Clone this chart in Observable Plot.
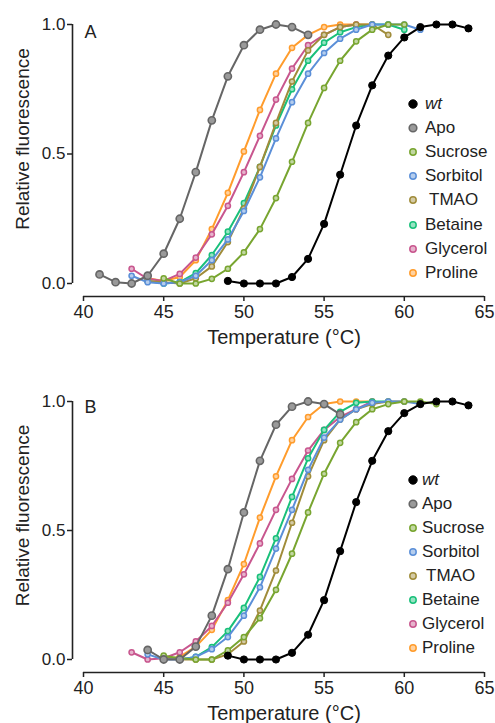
<!DOCTYPE html>
<html><head><meta charset="utf-8">
<script src="https://cdn.jsdelivr.net/npm/d3@7"></script>
<script src="https://cdn.jsdelivr.net/npm/@observablehq/plot@0.6"></script>
<style>
body{margin:0;background:#fff;font-family:"Liberation Sans",Arial,sans-serif;}
#wrap{position:relative;width:495px;height:723px;overflow:hidden;}
#wrap svg{display:block;}
.row{position:absolute;height:20px;line-height:20px;font-size:17px;color:#222;white-space:nowrap;display:flex;align-items:center;}
.row svg{display:inline-block;margin-right:5px;}
</style></head><body><div id="wrap"></div>
<script>
const seriesNames = ["wt","Apo","Sucrose","Sorbitol","TMAO","Betaine","Glycerol","Proline"];
const seriesColors = ["#000000","#666666","#78a530","#5b8fd8","#a08c3a","#19c07a","#c8568e","#ff9c2c"];
const drawOrder = ["Proline","Glycerol","Betaine","TMAO","Sorbitol","Sucrose","Apo","wt"];
const xTicks = [40,45,50,55,60,65];
const yTicks = [0,0.5,1];
const xLabel = "Temperature (°C)";
const yLabel = "Relative fluorescence";

// Panel A: first temperature of each series (°C), then values at 1 °C steps
const startA = {wt:49, Apo:41, Sucrose:45, Sorbitol:43, TMAO:44, Betaine:44, Glycerol:43, Proline:44};
const A_wt       = [0.01,0,0,0,0.025,0.095,0.23,0.42,0.61,0.765,0.88,0.95,0.99,1.0,1.0,0.985];
const A_Apo      = [0.035,0.005,0,0.03,0.115,0.25,0.43,0.63,0.80,0.92,0.98,1.0,0.99,0.96];
const A_Sucrose  = [0.02,0,0,0.018,0.057,0.12,0.21,0.33,0.47,0.62,0.755,0.86,0.935,0.98,1.0,1.0];
const A_Sorbitol = [0.03,0.005,0,0.005,0.03,0.09,0.17,0.28,0.41,0.56,0.70,0.81,0.89,0.945,0.98,1.0,1.0,1.0,0.98];
const A_TMAO     = [0.01,0.005,0,0.02,0.066,0.16,0.29,0.45,0.62,0.78,0.90,0.96,0.99,1.0,1.0,0.96];
const A_Betaine  = [0.01,0,0.005,0.04,0.11,0.20,0.31,0.45,0.61,0.75,0.86,0.93,0.97,0.99,1.0,1.0,0.98];
const A_Glycerol = [0.057,0.018,0.01,0.037,0.10,0.19,0.30,0.43,0.57,0.71,0.83,0.92,0.96,0.99,1.0];
const A_Proline  = [0.02,0.01,0.025,0.09,0.21,0.35,0.51,0.67,0.81,0.91,0.96,0.99,1.0,1.0,1.0];

// Panel B
const startB = {wt:49, Apo:44, Sucrose:45, Sorbitol:44, TMAO:45, Betaine:45, Glycerol:43, Proline:45};
const B_wt       = [0.015,0,0,0,0.026,0.096,0.23,0.42,0.61,0.77,0.885,0.955,0.99,1.0,1.0,0.985];
const B_Apo      = [0.037,0,0,0.05,0.17,0.35,0.57,0.77,0.91,0.98,1.0,0.99,0.95];
const B_Sucrose  = [0.015,0.005,0,0,0.035,0.087,0.16,0.27,0.41,0.57,0.72,0.84,0.92,0.97,0.99,1.0,1.0,0.99];
const B_Sorbitol = [0.02,0,0,0.01,0.04,0.087,0.17,0.28,0.43,0.58,0.735,0.86,0.93,0.97,0.995,1.0,1.0,0.99];
const B_TMAO     = [0.01,0,0,0,0.02,0.07,0.19,0.345,0.53,0.71,0.85,0.93,0.97,0.99,1.0,1.0];
const B_Betaine  = [0.01,0,0.01,0.048,0.11,0.20,0.32,0.47,0.63,0.78,0.89,0.96,0.995,1.0,1.0];
const B_Glycerol = [0.028,0,0.005,0.028,0.07,0.13,0.22,0.33,0.45,0.58,0.70,0.81,0.89,0.94,0.97,1.0];
const B_Proline  = [0,0.01,0.05,0.115,0.23,0.37,0.55,0.71,0.85,0.94,0.99,1.0,1.0,1.0];

const valuesA = {wt:A_wt, Apo:A_Apo, Sucrose:A_Sucrose, Sorbitol:A_Sorbitol, TMAO:A_TMAO, Betaine:A_Betaine, Glycerol:A_Glycerol, Proline:A_Proline};
const valuesB = {wt:B_wt, Apo:B_Apo, Sucrose:B_Sucrose, Sorbitol:B_Sorbitol, TMAO:B_TMAO, Betaine:B_Betaine, Glycerol:B_Glycerol, Proline:B_Proline};

const colorOf = Object.fromEntries(seriesNames.map((n,i)=>[n, seriesColors[i]]));
function tint(c){ return d3.interpolateRgb(c, "#ffffff")(0.55); }
function markerStyle(name){
  if (name === "wt") return {r:3.6, fill:"#000", stroke:"#000", strokeWidth:1};
  if (name === "Apo") return {r:3.6, fill:"#9a9a9a", stroke:"#666", strokeWidth:1.6};
  return {r:2.6, fill:tint(colorOf[name]), stroke:colorOf[name], strokeWidth:1.5};
}

function rowsFor(starts, values, name){
  return values[name].map((v,i)=>({series:name, t:starts[name]+i, v}));
}

const FONT = '"Liberation Sans", Arial, sans-serif';

function panel(letter, starts, values, marginTop, marginBottom, letterDy){
  const marks = [];
  for (const name of drawOrder){
    const rows = rowsFor(starts, values, name);
    const c = colorOf[name];
    marks.push(Plot.line(rows, {x:"t", y:"v", stroke: c, strokeWidth: 2, curve:"linear"}));
    const m = markerStyle(name);
    marks.push(Plot.dot(rows, {x:"t", y:"v", r:m.r, fill:m.fill, stroke:m.stroke, strokeWidth:m.strokeWidth}));
  }
  return Plot.plot({
    width: 495, height: 361,
    marginLeft: 83, marginRight: 11, marginTop, marginBottom,
    x: {domain:[40,65]},
    y: {domain:[0,1]},
    style: {fontFamily: FONT, color:"#222", background:"white", overflow:"visible"},
    marks: [
      Plot.ruleX([40], {y1:0, y2:1, dx:-11, stroke:"#222", strokeWidth:1.6}),
      Plot.ruleY([0], {x1:40, x2:65, dy:13, stroke:"#222", strokeWidth:1.6}),
      Plot.axisY({ticks:yTicks, tickFormat:d3.format(".1f"), dx:-11, tickSize:5, tickPadding:2, fontSize:17, strokeWidth:1.5, label:null}),
      Plot.axisX({ticks:xTicks, dy:13, tickSize:5, tickPadding:4, fontSize:18, strokeWidth:1.5, label:null}),
      Plot.text([xLabel], {text:d=>d, frameAnchor:"bottom", lineAnchor:"middle", textAnchor:"middle", dy:54, fontSize:20, fill:"#222"}),
      Plot.text([yLabel], {text:d=>d, frameAnchor:"left", lineAnchor:"middle", textAnchor:"middle", rotate:-90, dx:-61, dy:-15, fontSize:19, fill:"#222"}),
      Plot.text([letter], {text:d=>d, frameAnchor:"top-left", lineAnchor:"middle", textAnchor:"start", dx:1, dy:letterDy, fontSize:18, fill:"#222"}),
      ...marks
    ]
  });
}

function legend(container, top0, step, markerX, textX){
  seriesNames.forEach((name,i)=>{
    const m = markerStyle(name);
    const r = name === "wt" ? 4.2 : (name === "Apo" ? 3.8 : 3.2);
    const div = document.createElement("div");
    div.className = "row";
    div.style.left = (markerX - 7) + "px";
    div.style.top = (top0 + step*i - 10) + "px";
    const sw = m.strokeWidth;
    div.innerHTML = `<svg width="14" height="14" style="margin-right:${textX - markerX - 7}px"><circle cx="7" cy="7" r="${r}" fill="${m.fill}" stroke="${m.stroke}" stroke-width="${sw}"/></svg>` +
      `<span style="${name==='wt'?'font-style:italic;':''}${name==='TMAO'?'padding-left:4px;':''}">${name}</span>`;
    container.appendChild(div);
  });
}

const wrap = document.getElementById("wrap");
wrap.appendChild(panel("A", startA, valuesA, 24, 78, 7.5));
wrap.appendChild(panel("B", startB, valuesB, 40, 63, 5.5));
legend(wrap, 104, 24.1, 413, 425);
legend(wrap, 480, 24, 413, 422);
</script></body></html>
